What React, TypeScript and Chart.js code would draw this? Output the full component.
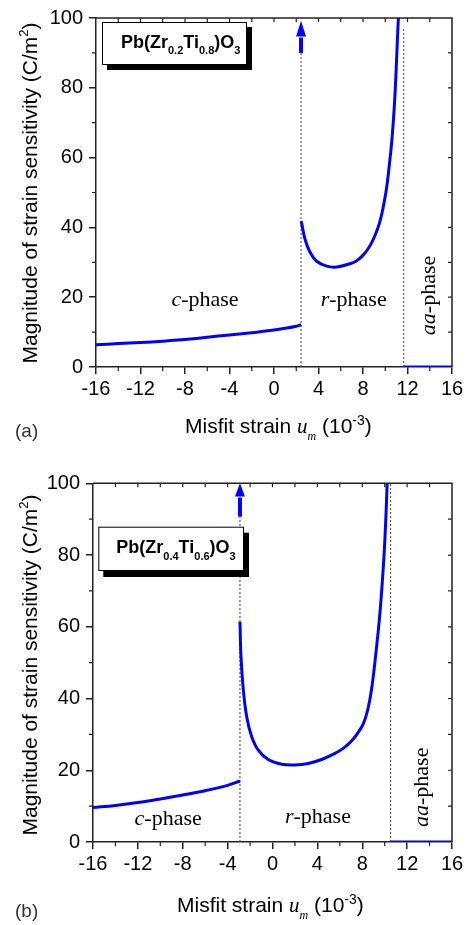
import React, { useEffect, useRef } from "react";
import { Chart, registerables } from "chart.js";
Chart.register(...registerables);

const SANS = "'Liberation Sans', Arial, Helvetica, sans-serif";
const SERIF = "'Liberation Serif', 'Times New Roman', serif";

// ---------- Panel (a): Pb(Zr0.2Ti0.8)O3 ----------
const cPhaseAX = [-16, -14, -12, -10, -8, -6, -4, -2, 0, 1, 2, 2.43];
const cPhaseAY = [6.4, 6.7, 7.0, 7.4, 7.9, 8.5, 9.2, 9.8, 10.6, 11.1, 11.7, 12.1];
const rPhaseAX = [2.45, 2.79, 3.24, 3.84, 4.74, 5.64, 6.83, 7.4, 7.9, 8.4, 8.93, 9.53, 10.07, 10.37, 10.61, 10.82, 10.97, 11.09, 11.18];
const rPhaseAY = [41.8, 36.6, 32.9, 30.3, 28.9, 28.65, 29.6, 30.4, 31.7, 33.6, 36.6, 41.8, 50.3, 58.0, 65.6, 75, 84.4, 93.7, 100];
const aaPhaseAX = [11.66, 16];
const aaPhaseAY = [0, 0];
const boundariesA = [2.43, 11.66];
const boundaryTopsA = [90, 97.5];
const arrowA = { x: 2.43, from: 90, base: 94.7, tip: 99.2 };

// ---------- Panel (b): Pb(Zr0.4Ti0.6)O3 ----------
const cPhaseBX = [-16, -14, -12, -10, -8, -6, -4, -2.9];
const cPhaseBY = [9.6, 10.2, 11.0, 12.0, 13.1, 14.3, 15.8, 17.0];
const rPhaseBX = [-2.9, -2.81, -2.6, -2.3, -1.86, -1.27, -0.38, 0.82, 2.0, 3.19, 4.38, 5.57, 6.3, 7.0, 7.6, 8.1, 8.5, 8.85, 9.25, 9.55, 9.78, 9.97, 10.11, 10.22];
const rPhaseBY = [61.4, 51.7, 42.4, 34.9, 29.4, 25.6, 23.0, 21.7, 21.5, 21.9, 23.0, 24.7, 26.1, 28.0, 30.4, 33.0, 37.0, 43.0, 53.6, 62.9, 72.2, 81.5, 90.8, 100];
const aaPhaseBX = [10.53, 16];
const aaPhaseBY = [0, 0];
const boundariesB = [-2.9, 10.53];
const boundaryTopsB = [90.7, 100];
const arrowB = { x: -2.9, from: 90.7, base: 96.3, tip: 100 };

// axis ranges / ticks
const xRange = [-16, 16];
const xMajorStep = 4;
const xMinorStep = 2;
const yRange = [0, 100];
const yMajorStep = 20;
const yMinorStep = 10;

const yTitle = "Magnitude of strain sensitivity (C/m";
const xTitle = "Misfit strain ";

type Seg = { t: string; f: string; dy?: number };

function segWidth(ctx: CanvasRenderingContext2D, segs: Seg[]) {
  let w = 0;
  for (const s of segs) {
    ctx.font = s.f;
    w += ctx.measureText(s.t).width;
  }
  return w;
}

function drawSegs(ctx: CanvasRenderingContext2D, segs: Seg[], x: number, y: number, center: boolean) {
  const w = segWidth(ctx, segs);
  let cx = center ? x - w / 2 : x;
  ctx.textAlign = "left";
  ctx.textBaseline = "alphabetic";
  for (const s of segs) {
    ctx.font = s.f;
    ctx.fillText(s.t, cx, y + (s.dy || 0));
    cx += ctx.measureText(s.t).width;
  }
}

interface Panel {
  height: number;
  padTop: number;
  yAxisW: number;
  xAxisH: number;
  cX: number[]; cY: number[];
  rX: number[]; rY: number[];
  aaX: number[]; aaY: number[];
  bounds: number[]; boundTops: number[];
  arrow: { x: number; from: number; base: number; tip: number };
  sub1: string; sub2: string;
  box: { dx: number; dy: number; w: number; h: number; sx: number; sy: number; tx: number; ty: number };
  cLabel: { x: number; y: number };
  rLabel: { x: number; y: number };
  aaLabel: { x: number; y: number };
  xTitleX: number; xTitleY: number;
  yTitleCY: number;
  tag: string; tagY: number;
}

const panelA: Panel = {
  height: 460, padTop: 11, yAxisW: 96, xAxisH: 93,
  cX: cPhaseAX, cY: cPhaseAY, rX: rPhaseAX, rY: rPhaseAY, aaX: aaPhaseAX, aaY: aaPhaseAY,
  bounds: boundariesA, boundTops: boundaryTopsA, arrow: arrowA,
  sub1: "0.2", sub2: "0.8",
  box: { dx: 6, dy: 4, w: 145, h: 43, sx: 5, sy: 5, tx: 19, ty: 25.7 },
  cLabel: { x: -6.2, y: 17.4 }, rLabel: { x: 7.16, y: 17.4 }, aaLabel: { x: 14.45, y: 20.5 },
  xTitleX: 185, xTitleY: 433, yTitleCY: 193,
  tag: "(a)", tagY: 437,
};

const panelB: Panel = {
  height: 465, padTop: 23.3, yAxisW: 93, xAxisH: 83,
  cX: cPhaseBX, cY: cPhaseBY, rX: rPhaseBX, rY: rPhaseBY, aaX: aaPhaseBX, aaY: aaPhaseBY,
  bounds: boundariesB, boundTops: boundaryTopsB, arrow: arrowB,
  sub1: "0.4", sub2: "0.6",
  box: { dx: 5.3, dy: 43.4, w: 145.7, h: 44.3, sx: 5, sy: 6, tx: 18, ty: 26.3 },
  cLabel: { x: -9.3, y: 4.6 }, rLabel: { x: 4.05, y: 5.3 }, aaLabel: { x: 13.88, y: 15.25 },
  xTitleX: 177, xTitleY: 451.7, yTitleCY: 205,
  tag: "(b)", tagY: 456.7,
};

function pts(xs: number[], ys: number[]) {
  return xs.map((x, i) => ({ x, y: ys[i] }));
}

function range(a: number, b: number, step: number) {
  const out: number[] = [];
  for (let v = a; v <= b + 1e-9; v += step) out.push(v);
  return out;
}

function makeChart(canvas: HTMLCanvasElement, p: Panel) {
  const blue = "#0000ff";
  const lineDs = (xs: number[], ys: number[]) => ({
    data: pts(xs, ys),
    borderColor: blue,
    borderWidth: 3,
    pointRadius: 0,
    fill: false,
    tension: 0.4,
  });
  const dashDs = (x: number, top: number) => ({
    data: [{ x, y: 0 }, { x, y: top }],
    borderColor: "#444",
    borderWidth: 1,
    borderDash: [2, 2],
    pointRadius: 0,
    fill: false,
  });

  const decor = {
    id: "decor",
    afterDraw(chart: any) {
      const ctx: CanvasRenderingContext2D = chart.ctx;
      const a = chart.chartArea;
      const xs = chart.scales.x;
      const ys = chart.scales.y;
      ctx.save();
      // frame top/right
      ctx.strokeStyle = "#222";
      ctx.lineWidth = 1.5;
      ctx.beginPath();
      ctx.moveTo(a.left, a.top);
      ctx.lineTo(a.right, a.top);
      ctx.lineTo(a.right, a.bottom);
      ctx.stroke();
      // ticks
      ctx.lineWidth = 1.2;
      ctx.beginPath();
      for (const v of range(xRange[0], xRange[1], xMinorStep)) {
        const px = xs.getPixelForValue(v);
        const isMajor = Math.abs(v / xMajorStep - Math.round(v / xMajorStep)) < 1e-6;
        if (!isMajor) { ctx.moveTo(px, a.bottom); ctx.lineTo(px, a.bottom + 4); }
        if (v > xRange[0] && v < xRange[1]) { ctx.moveTo(px, a.top); ctx.lineTo(px, a.top + 4); }
      }
      for (const v of range(yRange[0], yRange[1], yMinorStep)) {
        const py = ys.getPixelForValue(v);
        const isMajor = Math.abs(v / yMajorStep - Math.round(v / yMajorStep)) < 1e-6;
        if (!isMajor) { ctx.moveTo(a.left, py); ctx.lineTo(a.left - 4, py); }
        if (v > yRange[0] && v < yRange[1]) { ctx.moveTo(a.right, py); ctx.lineTo(a.right - 4, py); }
      }
      ctx.stroke();

      // arrow
      const ax = xs.getPixelForValue(p.arrow.x);
      const ay0 = ys.getPixelForValue(p.arrow.from);
      const ayb = ys.getPixelForValue(p.arrow.base);
      const ayt = ys.getPixelForValue(p.arrow.tip);
      ctx.strokeStyle = blue;
      ctx.fillStyle = blue;
      ctx.lineWidth = 4;
      ctx.beginPath();
      ctx.moveTo(ax, ay0);
      ctx.lineTo(ax, ayb + 1);
      ctx.stroke();
      ctx.beginPath();
      ctx.moveTo(ax - 5, ayb);
      ctx.lineTo(ax + 5, ayb);
      ctx.lineTo(ax, ayt);
      ctx.closePath();
      ctx.fill();

      // formula box
      const b = p.box;
      const bx = a.left + b.dx;
      const by = a.top + b.dy;
      ctx.fillStyle = "#000";
      ctx.fillRect(bx + b.sx, by + b.sy, b.w, b.h);
      ctx.fillStyle = "#fff";
      ctx.fillRect(bx, by, b.w, b.h);
      ctx.strokeStyle = "#000";
      ctx.lineWidth = 1;
      ctx.strokeRect(bx + 0.5, by + 0.5, b.w - 1, b.h - 1);
      ctx.fillStyle = "#000";
      const big = `bold 18px ${SANS}`;
      const small = `bold 11px ${SANS}`;
      drawSegs(ctx, [
        { t: "Pb(Zr", f: big },
        { t: p.sub1, f: small, dy: 6.5 },
        { t: "Ti", f: big },
        { t: p.sub2, f: small, dy: 6.5 },
        { t: ")O", f: big },
        { t: "3", f: small, dy: 6.5 },
      ], bx + b.tx, by + b.ty, false);

      // phase labels
      const it = `italic 22px ${SERIF}`;
      const rm = `22px ${SERIF}`;
      drawSegs(ctx, [{ t: "c", f: it }, { t: "-phase", f: rm }],
        xs.getPixelForValue(p.cLabel.x), ys.getPixelForValue(p.cLabel.y), true);
      drawSegs(ctx, [{ t: "r", f: it }, { t: "-phase", f: rm }],
        xs.getPixelForValue(p.rLabel.x), ys.getPixelForValue(p.rLabel.y), true);
      ctx.save();
      ctx.translate(xs.getPixelForValue(p.aaLabel.x), ys.getPixelForValue(p.aaLabel.y));
      ctx.rotate(-Math.PI / 2);
      drawSegs(ctx, [{ t: "aa", f: it }, { t: "-phase", f: rm }], 0, 0, true);
      ctx.restore();

      // axis titles
      const tf = `21px ${SANS}`;
      ctx.fillStyle = "#000";
      drawSegs(ctx, [
        { t: xTitle, f: tf },
        { t: "u", f: `italic 21px ${SERIF}` },
        { t: "m", f: `italic 12px ${SERIF}`, dy: 7 },
        { t: " (10", f: tf },
        { t: "-3", f: `14px ${SANS}`, dy: -8 },
        { t: ")", f: tf },
      ], p.xTitleX, p.xTitleY, false);
      ctx.save();
      ctx.translate(37, p.yTitleCY);
      ctx.rotate(-Math.PI / 2);
      drawSegs(ctx, [
        { t: yTitle, f: tf },
        { t: "2", f: `13px ${SANS}`, dy: -9 },
        { t: ")", f: tf },
      ], 0, 0, true);
      ctx.restore();

      // panel tag
      ctx.fillStyle = "#333";
      ctx.font = `19px ${SANS}`;
      ctx.textAlign = "left";
      ctx.textBaseline = "alphabetic";
      ctx.fillText(p.tag, 15, p.tagY);
      ctx.restore();
    },
  };

  return new Chart(canvas, {
    type: "line",
    data: {
      datasets: [
        lineDs(p.cX, p.cY),
        lineDs(p.rX, p.rY),
        lineDs(p.aaX, p.aaY),
        dashDs(p.bounds[0], p.boundTops[0]),
        dashDs(p.bounds[1], p.boundTops[1]),
      ] as any,
    },
    options: {
      animation: false,
      responsive: false,
      maintainAspectRatio: false,
      devicePixelRatio: 1,
      layout: { padding: { left: 0, right: 19, top: p.padTop, bottom: 0 } },
      plugins: { legend: { display: false }, tooltip: { enabled: false }, title: { display: false } },
      scales: {
        x: {
          type: "linear",
          min: xRange[0],
          max: xRange[1],
          ticks: { stepSize: xMajorStep, color: "#000", font: { family: SANS, size: 20 }, padding: 3, maxRotation: 0 },
          grid: { display: true, drawOnChartArea: false, drawTicks: true, tickLength: 7, color: "#222", lineWidth: 1.5 },
          border: { display: true, color: "#222", width: 1.5 },
          afterFit: (s: any) => { s.height = p.xAxisH; },
        },
        y: {
          type: "linear",
          min: yRange[0],
          max: yRange[1],
          ticks: { stepSize: yMajorStep, color: "#000", font: { family: SANS, size: 20 }, padding: 6 },
          grid: { display: true, drawOnChartArea: false, drawTicks: true, tickLength: 7, color: "#222", lineWidth: 1.5 },
          border: { display: true, color: "#222", width: 1.5 },
          afterFit: (s: any) => { s.width = p.yAxisW; },
        },
      },
    },
    plugins: [decor],
  });
}

function PanelChart({ p, top }: { p: Panel; top: number }) {
  const ref = useRef<HTMLCanvasElement>(null);
  useEffect(() => {
    if (!ref.current) return;
    const c = makeChart(ref.current, p);
    return () => c.destroy();
  }, [p]);
  return (
    <canvas
      ref={ref}
      width={471}
      height={p.height}
      style={{ position: "absolute", left: 0, top, width: 471, height: p.height }}
    />
  );
}

export default function App() {
  return (
    <div style={{ position: "absolute", left: 0, top: 0, width: 471, height: 925, background: "#fff" }}>
      <PanelChart p={panelA} top={0} />
      <PanelChart p={panelB} top={460} />
    </div>
  );
}
